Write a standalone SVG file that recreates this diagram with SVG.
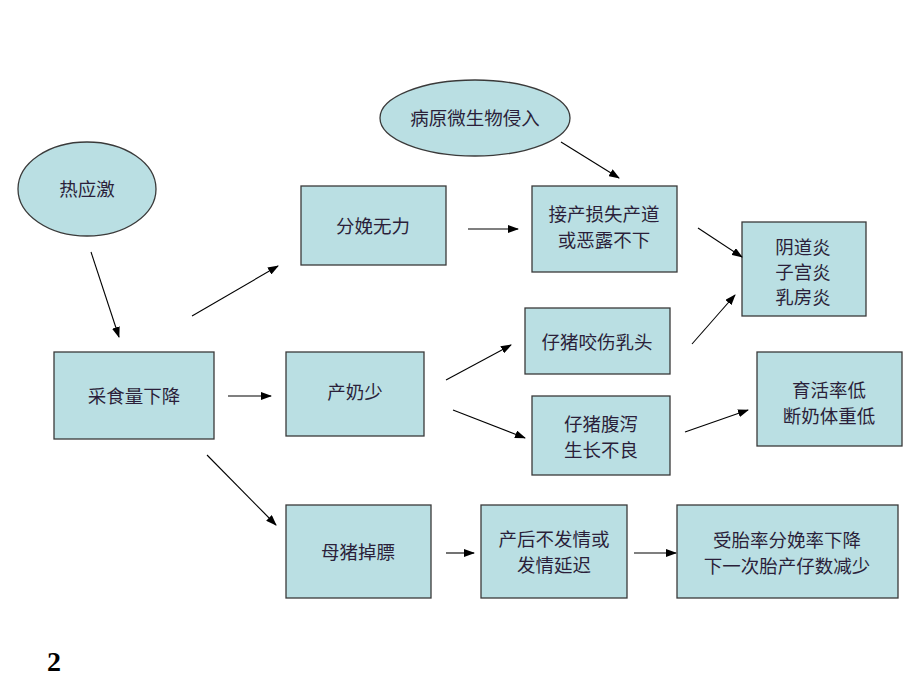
<svg xmlns="http://www.w3.org/2000/svg" width="920" height="690" viewBox="0 0 920 690">
<defs>
<marker id="ah" markerWidth="11" markerHeight="8" refX="10" refY="4" orient="auto" markerUnits="userSpaceOnUse">
<path d="M0,0 L11,4 L0,8 Z" fill="#000"/>
</marker>
<style>
.box{fill:#BADFE3;stroke:#3a3a3a;stroke-width:1.3}
.t{font-family:"Noto Sans CJK SC","Noto Sans CJK JP",sans-serif;font-size:18.5px;fill:#2b1f3a;text-anchor:middle}
.c{stroke:#000;stroke-width:1.1;fill:none;marker-end:url(#ah)}
</style>
</defs>
<rect width="920" height="690" fill="#fff"/>
<g id="n_heat"><ellipse class="box" cx="87" cy="189" rx="69" ry="47"/><text class="t" x="87" y="196">热应激</text></g>
<g id="n_pathogen"><ellipse class="box" cx="475" cy="118" rx="95" ry="38"/><text class="t" x="475" y="125">病原微生物侵入</text></g>
<g id="n_feed"><rect class="box" x="54" y="352" width="160" height="87"/><text class="t" x="134" y="403">采食量下降</text></g>
<g id="n_weak"><rect class="box" x="301" y="186" width="145" height="79"/><text class="t" x="373" y="233">分娩无力</text></g>
<g id="n_loss"><rect class="box" x="532" y="186" width="145" height="86"/><text class="t" x="604" y="221">接产损失产道</text><text class="t" x="604" y="247">或恶露不下</text></g>
<g id="n_inflam"><rect class="box" x="742" y="222" width="124" height="94"/><text class="t" x="803" y="254">阴道炎</text><text class="t" x="803" y="279">子宫炎</text><text class="t" x="803" y="304">乳房炎</text></g>
<g id="n_milk"><rect class="box" x="286" y="352" width="138" height="84"/><text class="t" x="355" y="399">产奶少</text></g>
<g id="n_bite"><rect class="box" x="525" y="308" width="145" height="66"/><text class="t" x="597" y="349">仔猪咬伤乳头</text></g>
<g id="n_diarrhea"><rect class="box" x="532" y="396" width="138" height="79"/><text class="t" x="601" y="431">仔猪腹泻</text><text class="t" x="601" y="457">生长不良</text></g>
<g id="n_survival"><rect class="box" x="757" y="352" width="145" height="94"/><text class="t" x="829" y="397">育活率低</text><text class="t" x="829" y="423">断奶体重低</text></g>
<g id="n_thin"><rect class="box" x="286" y="505" width="145" height="93"/><text class="t" x="358" y="559">母猪掉膘</text></g>
<g id="n_estrus"><rect class="box" x="481" y="505" width="146" height="93"/><text class="t" x="554" y="546">产后不发情或</text><text class="t" x="554" y="572">发情延迟</text></g>
<g id="n_rate"><rect class="box" x="677" y="505" width="221" height="93"/><text class="t" x="787" y="547">受胎率分娩率下降</text><text class="t" x="787" y="573">下一次胎产仔数减少</text></g>
<g id="connectors">
<line class="c" x1="91" y1="252" x2="119" y2="337"/>
<line class="c" x1="228" y1="396" x2="271" y2="396"/>
<line class="c" x1="192" y1="316" x2="278" y2="266"/>
<line class="c" x1="207" y1="455" x2="276" y2="525"/>
<line class="c" x1="468" y1="229" x2="518" y2="229"/>
<line class="c" x1="561" y1="142" x2="619" y2="178"/>
<line class="c" x1="698" y1="228" x2="742" y2="257"/>
<line class="c" x1="692" y1="344" x2="735" y2="295"/>
<line class="c" x1="446" y1="380" x2="511" y2="345"/>
<line class="c" x1="453" y1="410" x2="525" y2="438"/>
<line class="c" x1="685" y1="432" x2="748" y2="410"/>
<line class="c" x1="446" y1="553" x2="474" y2="553"/>
<line class="c" x1="634" y1="553" x2="676" y2="553"/>
</g>
<text x="47" y="671" font-family="Liberation Serif,serif" font-weight="bold" font-size="28" fill="#000">2</text>
</svg>
